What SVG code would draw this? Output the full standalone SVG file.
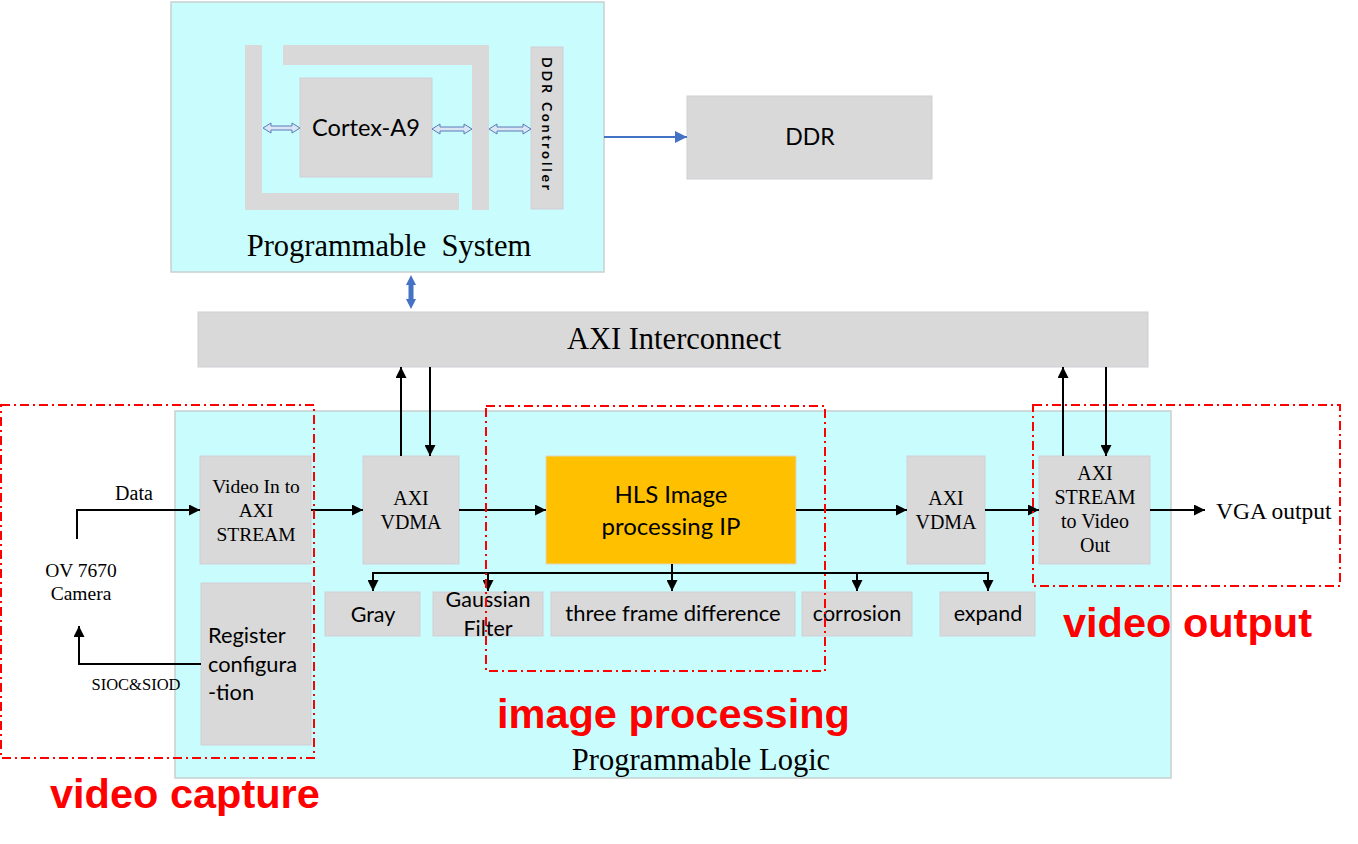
<svg xmlns="http://www.w3.org/2000/svg" width="1358" height="844" viewBox="0 0 1358 844">
<defs>
<marker id="ah" viewBox="0 0 10 10" refX="10" refY="5" markerWidth="12" markerHeight="11" markerUnits="userSpaceOnUse" orient="auto"><path d="M0,0 L10,5 L0,10 Z" fill="#000"/></marker>
<marker id="ahb" viewBox="0 0 10 10" refX="10" refY="5" markerWidth="12" markerHeight="12" markerUnits="userSpaceOnUse" orient="auto"><path d="M0,0 L10,5 L0,10 Z" fill="#4472c4"/></marker>
</defs>
<style>
.region{fill:#c9fdfd;stroke:#c8d0d0;stroke-width:1.5}
.box{fill:#d9d9d9;stroke:#cfcfd6;stroke-width:1}
.bar{fill:#d9d9d9;stroke:none}
.serif{font-family:"Liberation Serif","Times New Roman",serif;fill:#000}
.sans{font-family:Lato,"Open Sans","Liberation Sans",sans-serif;fill:#000}
.red{font-family:"Liberation Sans",Arial,sans-serif;font-weight:bold;fill:#ff0000}
.conn{stroke:#000;stroke-width:2;fill:none}
.dash{fill:none;stroke:#ff0000;stroke-width:2;stroke-dasharray:9 4 2 4}
.dbl{fill:#dbe6f5;stroke:#5a7ab8;stroke-width:1}
</style>
<rect width="1358" height="844" fill="#fff"/>

<g id="ps">
<rect class="region" x="171" y="2" width="433" height="270"/>
<path class="bar" d="M245,45 H262 V193 H459 V210 H245 Z"/>
<path class="bar" d="M283,45 H489 V210 H472 V65 H283 Z"/>
<text class="serif" x="389" y="256" font-size="30.5" text-anchor="middle" xml:space="preserve">Programmable  System</text>
</g>
<g id="cortex">
<rect class="box" x="300" y="78" width="132" height="99"/>
<text class="sans" x="366" y="136" font-size="23.6" text-anchor="middle">Cortex-A9</text>
</g>
<g id="ddrctrl">
<rect class="box" x="531" y="47" width="32" height="162"/>
<text class="sans" font-size="14" font-weight="bold" letter-spacing="2.8" transform="translate(542,57) rotate(90)">DDR Controller</text>
</g>
<g id="ddr">
<rect class="box" x="687" y="96" width="245" height="83"/>
<text class="sans" x="810" y="145" font-size="23" text-anchor="middle">DDR</text>
</g>
<g id="axi">
<rect class="box" x="198" y="312" width="950" height="55"/>
<text class="serif" x="674" y="349" font-size="30.5" text-anchor="middle">AXI Interconnect</text>
</g>
<g id="pl">
<rect class="region" x="175" y="411" width="996" height="367"/>
<text class="serif" x="701" y="770" font-size="30.5" text-anchor="middle">Programmable Logic</text>
</g>
<g id="camera">
<text class="serif" x="81" y="577" font-size="19.5" text-anchor="middle">OV 7670</text>
<text class="serif" x="81" y="600" font-size="19.5" text-anchor="middle">Camera</text>
</g>
<g id="videoin">
<rect class="box" x="200" y="456" width="111" height="108"/>
<text class="serif" font-size="19.5" text-anchor="middle"><tspan x="256" y="493">Video In to</tspan><tspan x="256" y="517">AXI</tspan><tspan x="256" y="541">STREAM</tspan></text>
</g>
<g id="regcfg">
<rect class="box" x="201" y="583" width="110" height="162"/>
<text class="sans" font-size="21.8"><tspan x="208" y="643">Register</tspan><tspan x="208" y="672">configura</tspan><tspan x="208" y="700">-tion</tspan></text>
</g>
<g id="vdma1">
<rect class="box" x="363" y="456" width="96" height="108"/>
<text class="serif" font-size="20" text-anchor="middle"><tspan x="411" y="505">AXI</tspan><tspan x="411" y="529">VDMA</tspan></text>
</g>
<g id="hls">
<rect x="546" y="456" width="250" height="108" fill="#ffc000" stroke="#e0d8c0" stroke-width="1"/>
<text class="sans" font-size="24" text-anchor="middle"><tspan x="671" y="503">HLS Image</tspan><tspan x="671" y="535">processing IP</tspan></text>
</g>
<g id="vdma2">
<rect class="box" x="907" y="456" width="78" height="108"/>
<text class="serif" font-size="20" text-anchor="middle"><tspan x="946" y="505">AXI</tspan><tspan x="946" y="529">VDMA</tspan></text>
</g>
<g id="s2v">
<rect class="box" x="1039" y="456" width="111" height="108"/>
<text class="serif" font-size="20" text-anchor="middle"><tspan x="1095" y="480">AXI</tspan><tspan x="1095" y="504">STREAM</tspan><tspan x="1095" y="528">to Video</tspan><tspan x="1095" y="552">Out</tspan></text>
</g>
<g id="vga">
<text class="serif" x="1216" y="519" font-size="23.5">VGA output</text>
</g>
<g id="gray">
<rect class="box" x="325" y="592" width="95" height="44"/>
<text class="sans" x="373" y="622" font-size="21.5" text-anchor="middle">Gray</text>
</g>
<g id="gauss">
<rect class="box" x="433" y="592" width="110" height="44"/>
<text class="sans" font-size="21.5" text-anchor="middle"><tspan x="488" y="607">Gaussian</tspan><tspan x="488" y="636">Filter</tspan></text>
</g>
<g id="tfd">
<rect class="box" x="551" y="592" width="244" height="44"/>
<text class="sans" x="673" y="621" font-size="22" text-anchor="middle">three frame difference</text>
</g>
<g id="corrosion">
<rect class="box" x="802" y="592" width="110" height="44"/>
<text class="sans" x="857" y="621" font-size="21.5" text-anchor="middle">corrosion</text>
</g>
<g id="expand">
<rect class="box" x="940" y="592" width="95" height="44"/>
<text class="sans" x="988" y="621" font-size="21.5" text-anchor="middle">expand</text>
</g>

<g id="connectors">
<path class="dbl" d="M263,128 L271,123 L271,126 L292,126 L292,123 L300,128 L292,133 L292,130 L271,130 L271,133 Z"/>
<path class="dbl" d="M432,129 L440,124 L440,127 L464,127 L464,124 L472,129 L464,134 L464,131 L440,131 L440,134 Z"/>
<path class="dbl" d="M489,129 L497,124 L497,127 L523,127 L523,124 L531,129 L523,134 L523,131 L497,131 L497,134 Z"/>
<line x1="604" y1="137" x2="687" y2="137" stroke="#4472c4" stroke-width="2" marker-end="url(#ahb)"/>
<path d="M411,275 L416,285 L413.5,285 L413.5,299 L416,299 L411,309 L406,299 L408.5,299 L408.5,285 L406,285 Z" fill="#4472c4"/>
<line class="conn" x1="401" y1="456" x2="401" y2="367" marker-end="url(#ah)"/>
<line class="conn" x1="430" y1="367" x2="430" y2="456" marker-end="url(#ah)"/>
<line class="conn" x1="1063" y1="456" x2="1063" y2="367" marker-end="url(#ah)"/>
<line class="conn" x1="1106" y1="367" x2="1106" y2="456" marker-end="url(#ah)"/>
<path class="conn" d="M77,539 V510 H200" marker-end="url(#ah)"/>
<text class="serif" x="134" y="500" font-size="20" text-anchor="middle">Data</text>
<path class="conn" d="M201,664 H79 V626" marker-end="url(#ah)"/>
<text class="serif" x="136" y="690" font-size="16.5" text-anchor="middle">SIOC&amp;SIOD</text>
<line class="conn" x1="311" y1="510" x2="363" y2="510" marker-end="url(#ah)"/>
<line class="conn" x1="459" y1="510" x2="546" y2="510" marker-end="url(#ah)"/>
<line class="conn" x1="796" y1="510" x2="907" y2="510" marker-end="url(#ah)"/>
<line class="conn" x1="985" y1="510" x2="1039" y2="510" marker-end="url(#ah)"/>
<line class="conn" x1="1150" y1="510" x2="1205" y2="510" marker-end="url(#ah)"/>
<path class="conn" d="M672,564 V573"/>
<path class="conn" d="M373,573 H988" stroke-width="2.5"/>
<line class="conn" x1="373" y1="572" x2="373" y2="591" marker-end="url(#ah)"/>
<line class="conn" x1="488" y1="572" x2="488" y2="591" marker-end="url(#ah)"/>
<line class="conn" x1="672" y1="572" x2="672" y2="591" marker-end="url(#ah)"/>
<line class="conn" x1="857" y1="572" x2="857" y2="591" marker-end="url(#ah)"/>
<line class="conn" x1="988" y1="572" x2="988" y2="591" marker-end="url(#ah)"/>
</g>

<g id="regions">
<rect class="dash" x="1" y="405" width="313" height="353"/>
<rect class="dash" x="486" y="406" width="339" height="265"/>
<rect class="dash" x="1033" y="405" width="307" height="181"/>
<text class="red" x="50" y="808" font-size="41.5">video capture</text>
<text class="red" x="497" y="728" font-size="41.5">image processing</text>
<text class="red" x="1063" y="637" font-size="41.5">video output</text>
</g>
</svg>
